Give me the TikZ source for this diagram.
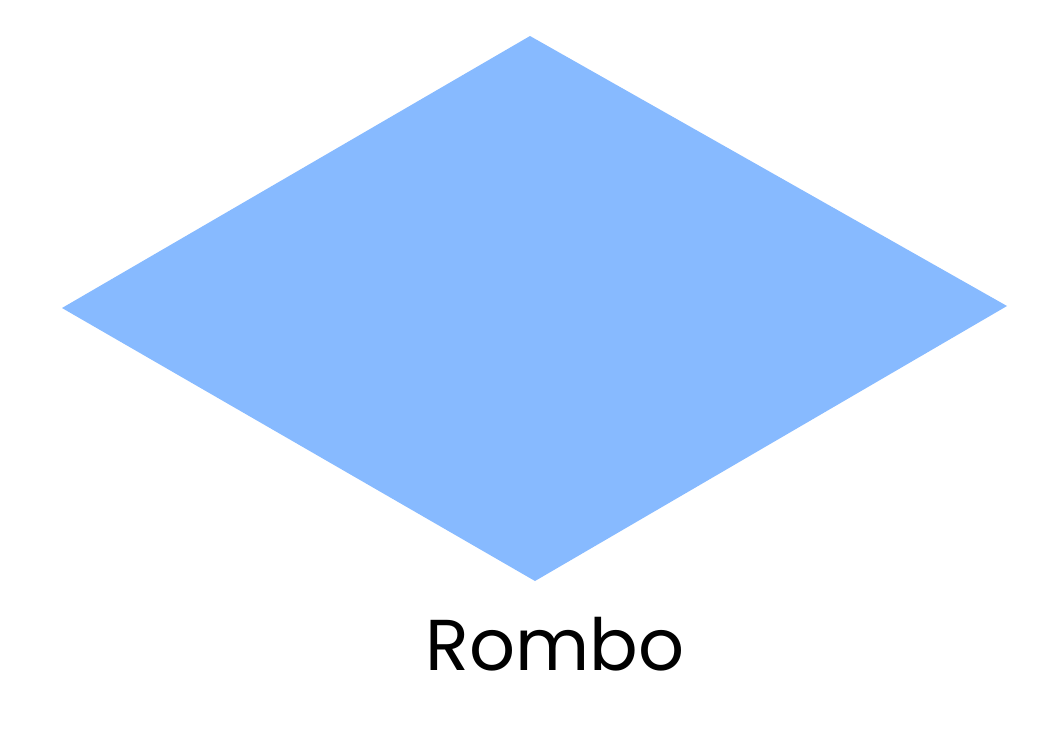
\documentclass[tikz,border=0pt]{standalone}
\usepackage{fontspec}
\setmainfont{Poppins}
\definecolor{rombofill}{HTML}{87BAFF}
\begin{document}
\begin{tikzpicture}[x=1pt,y=-1pt,
  shapefill/.style={fill=rombofill,draw=none},
  labeltext/.style={font=\fontsize{72}{80}\selectfont,text=black,inner sep=0pt}]
\useasboundingbox (0,0) rectangle (1043,729);
\coordinate (t) at (530,36);
\coordinate (r) at (1007,306);
\coordinate (b) at (535,581);
\coordinate (l) at (62,308);
\path[shapefill] (t) -- (r) -- (b) -- (l) -- cycle;
\node[labeltext,anchor=base] (lab) at (555,670) {Rombo};
\end{tikzpicture}
\end{document}
